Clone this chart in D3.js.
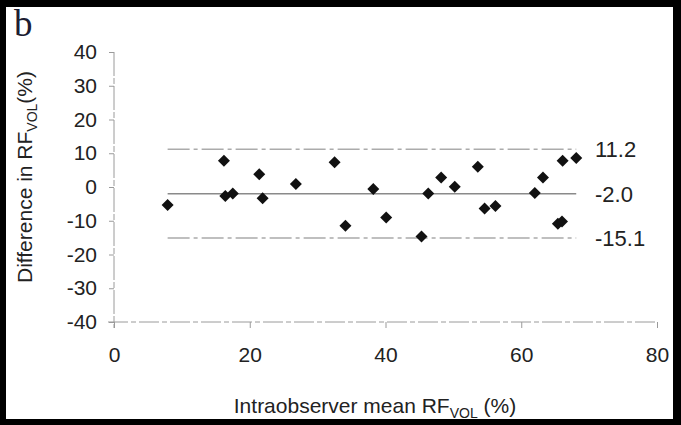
<!DOCTYPE html>
<html>
<head>
<meta charset="utf-8">
<script src="https://cdn.jsdelivr.net/npm/d3@7"></script>
<style>
  body { margin: 0; background: #000; }
  svg { display: block; }
  text { font-family: "Liberation Sans", Arial, sans-serif; fill: #222; }
</style>
</head>
<body>
<svg></svg>
<script>
var width = 681;
var height = 425;

// intraobserver mean (%) and difference (%) per patient
var meanValues = [7.9, 16.2, 16.4, 17.5, 21.4, 21.9, 26.8, 32.5, 34.1, 38.2, 40.1, 45.3,
                  46.3, 48.2, 50.2, 53.6, 54.6, 56.2, 62.0, 63.2, 65.4, 66.0, 66.1, 68.1];
var diffValues = [-5.3, 7.8, -2.7, -1.9, 3.8, -3.3, 0.9, 7.3, -11.5, -0.6, -9.0, -14.7,
                  -1.9, 2.8, 0.1, 6.0, -6.4, -5.6, -1.8, 2.8, -10.9, -10.2, 7.8, 8.6];

var xTicks = [0, 20, 40, 60, 80];
var yTicks = [40, 30, 20, 10, 0, -10, -20, -30, -40];

// bias and limits of agreement
var limitValues = [11.2, -2.0, -15.1];
var limitLabels = ["11.2", "-2.0", "-15.1"];

var svg = d3.select("svg")
            .attr("width", width)
            .attr("height", height);

// white paper inside the black scan border
svg.append("rect")
   .attr("x", 6)
   .attr("y", 7)
   .attr("width", 667)
   .attr("height", 412)
   .attr("fill", "#fff");

svg.append("text")
   .attr("x", 14)
   .attr("y", 36)
   .style("font-family", "'Liberation Serif', 'DejaVu Serif', serif")
   .style("font-size", "37px")
   .style("fill", "#1d1d33")
   .text("b");

var scaleX = d3.scaleLinear()
               .domain([0, 80])
               .range([114, 657]);

var scaleY = d3.scaleLinear()
               .domain([-40, 40])
               .range([322, 52]);

var axisColor = "#9a9a9a";
var plainFormat = function(d) { return String(d); }; // keep the plain hyphen

// x axis
var xAxis = d3.axisBottom(scaleX)
              .tickValues(xTicks)
              .tickFormat(plainFormat)
              .tickSizeInner(6)
              .tickSizeOuter(0)
              .tickPadding(19);

var gx = svg.append("g")
            .attr("class", "xAxis")
            .attr("transform", "translate(0," + scaleY(-40) + ")")
            .call(xAxis);

gx.select(".domain")
  .attr("d", "M" + (scaleX(0) - 6) + ",0H" + scaleX(80))
  .attr("stroke", axisColor)
  .attr("stroke-dasharray", "20,3,5,3");
gx.selectAll(".tick line").attr("stroke", axisColor);
gx.selectAll(".tick text")
  .style("font-size", "21px")
  .style("font-family", "'Liberation Sans', Arial, sans-serif")
  .attr("fill", "#222");

// y axis
var yAxis = d3.axisLeft(scaleY)
              .tickValues(yTicks)
              .tickFormat(plainFormat)
              .tickSizeInner(5)
              .tickSizeOuter(0)
              .tickPadding(12);

var gy = svg.append("g")
            .attr("class", "yAxis")
            .attr("transform", "translate(" + scaleX(0) + ",0)")
            .call(yAxis);

gy.select(".domain")
  .attr("d", "M0," + scaleY(40) + "V" + (scaleY(-40) + 6))
  .attr("stroke", axisColor)
  .attr("stroke-dasharray", "24,2,6,2");
gy.selectAll(".tick line").attr("stroke", axisColor);
gy.selectAll(".tick text")
  .style("font-size", "21px")
  .style("font-family", "'Liberation Sans', Arial, sans-serif")
  .attr("fill", "#222");

// bias line and limits of agreement across the data range
var xMin = d3.min(meanValues);
var xMax = d3.max(meanValues);

svg.selectAll(".limit")
   .data(limitValues)
   .enter()
   .append("line")
   .attr("class", "limit")
   .attr("x1", scaleX(xMin))
   .attr("x2", scaleX(xMax))
   .attr("y1", function(d) { return scaleY(d); })
   .attr("y2", function(d) { return scaleY(d); })
   .attr("stroke", function(d, i) { return i == 1 ? "#8a8a8a" : "#ababab"; })
   .attr("stroke-width", 1.6)
   .attr("stroke-dasharray", function(d, i) { return i == 1 ? null : "22,4,4,4"; });

svg.selectAll(".limitLabel")
   .data(limitValues)
   .enter()
   .append("text")
   .attr("class", "limitLabel")
   .attr("x", 595)
   .attr("y", function(d) { return scaleY(d) + 8; })
   .style("font-size", "22px")
   .text(function(d, i) { return limitLabels[i]; });

// diamonds
var diamond = "M0,-6L6,0L0,6L-6,0Z";

svg.selectAll(".point")
   .data(meanValues)
   .enter()
   .append("path")
   .attr("class", "point")
   .attr("d", diamond)
   .attr("transform", function(d, i) {
      return "translate(" + scaleX(d) + "," + scaleY(diffValues[i]) + ")";
   })
   .attr("fill", "#111");

// axis titles
var xTitle = svg.append("text")
                .attr("x", 375)
                .attr("y", 413)
                .attr("text-anchor", "middle")
                .style("font-size", "21px");
xTitle.append("tspan").text("Intraobserver mean RF");
xTitle.append("tspan").attr("dy", 5).style("font-size", "14px").text("VOL");
xTitle.append("tspan").attr("dy", -5).text(" (%)");

var yTitle = svg.append("text")
                .attr("transform", "translate(32,177) rotate(-90)")
                .attr("text-anchor", "middle")
                .style("font-size", "21px");
yTitle.append("tspan").text("Difference in RF");
yTitle.append("tspan").attr("dy", 5).style("font-size", "14px").text("VOL");
yTitle.append("tspan").attr("dy", -5).text("(%)");
</script>
</body>
</html>
